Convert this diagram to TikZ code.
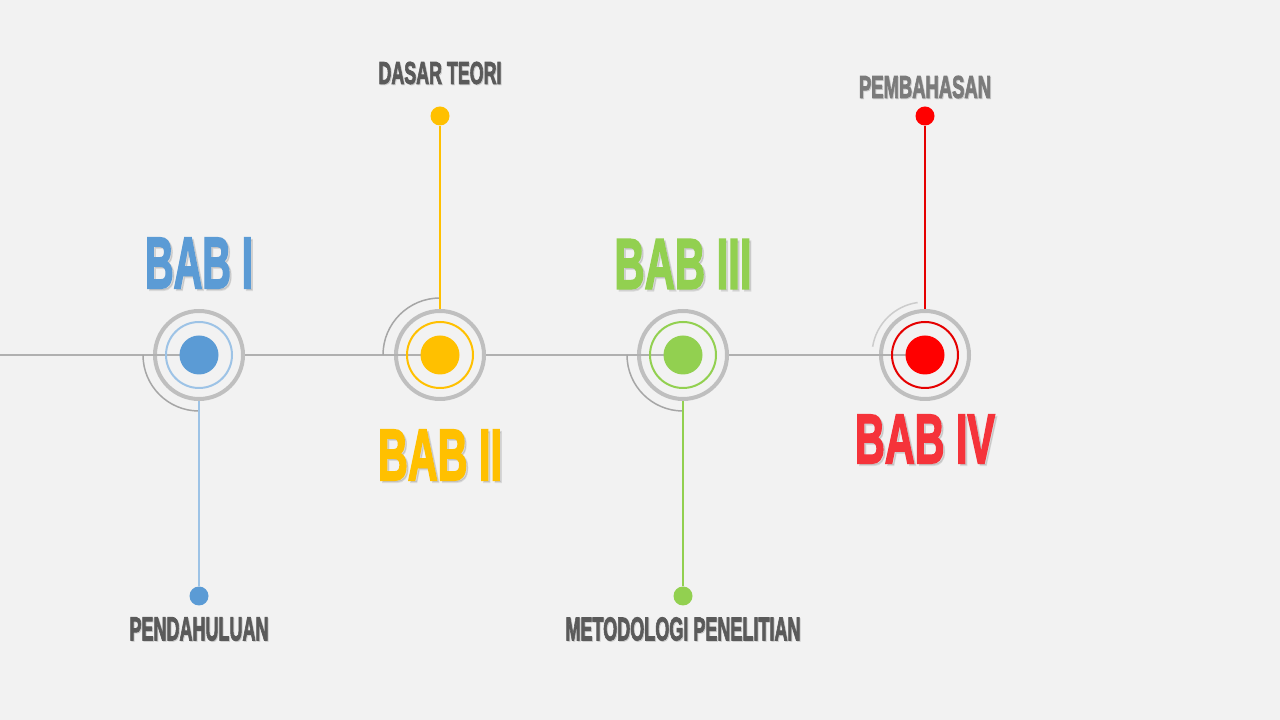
\documentclass[tikz,border=0pt]{standalone}
\usepackage{fontspec}
\setmainfont{Liberation Sans}
\newfontfamily\headfont[FakeBold=3]{Liberation Sans Bold}
\usepackage{graphicx}
\definecolor{bgC}{HTML}{F2F2F2}
\definecolor{blueC}{HTML}{5B9BD5}
\definecolor{lblueC}{HTML}{9DC3E6}
\definecolor{yelC}{HTML}{FFC000}
\definecolor{grnC}{HTML}{92D050}
\definecolor{redC}{HTML}{FF0000}
\definecolor{redT}{HTML}{F5333A}
\definecolor{ringC}{HTML}{BFBFBF}
\definecolor{lineC}{HTML}{B0B0B0}
\definecolor{arcC}{HTML}{A6A6A6}
\definecolor{arcL}{HTML}{CCCCCC}
\definecolor{txtG}{HTML}{5A5A5A}
\tikzset{
  ring/.style={circle, draw=ringC, line width=4pt, minimum size=88pt, inner sep=0pt},
  inring/.style={circle, line width=2pt, minimum size=66pt, inner sep=0pt},
  core/.style={circle, minimum size=39pt, inner sep=0pt},
  enddot/.style={circle, minimum size=19pt, inner sep=0pt},
  hline/.style={draw=lineC, line width=1.5pt},
  arcline/.style={draw=arcC, line width=1.5pt},
  vline/.style={line width=2pt},
  txt/.style={inner sep=0pt, font=\headfont},
  shadow/.style={inner sep=0pt, font=\headfont, text=black, opacity=0.1}
}
\begin{document}
\begin{tikzpicture}[x=1pt,y=1pt]
\useasboundingbox (0,0) rectangle (1280,720);
\fill[bgC] (0,0) rectangle (1280,720);
% centres
\coordinate (c1) at (199,365);
\coordinate (c2) at (440,365);
\coordinate (c3) at (683,365);
\coordinate (c4) at (925,365);
\coordinate (start) at (0,365);
% rings
\node[ring] (r1) at (c1) {};
\node[ring] (r2) at (c2) {};
\node[ring] (r3) at (c3) {};
\node[ring] (r4) at (c4) {};
% horizontal line
\draw[hline] (start) -- (c1);
\draw[hline] (r1.east) -- (c2);
\draw[hline] (r2.east) -- (c3);
\draw[hline] (r3.east) -- (c4);
% arcs
\draw[arcline] (c1) ++(180:56pt) arc[start angle=180, end angle=270, radius=56pt];
\draw[arcline] (c2) ++(90:57pt) arc[start angle=90, end angle=180, radius=57pt];
\draw[arcline] (c3) ++(180:56pt) arc[start angle=180, end angle=270, radius=56pt];
\draw[arcline, draw=arcL] (c4) ++(98:53pt) arc[start angle=98, end angle=171, radius=53pt];
% inner rings and cores
\node[inring, draw=lblueC] (i1) at (c1) {};
\node[inring, draw=yelC] (i2) at (c2) {};
\node[inring, draw=grnC] (i3) at (c3) {};
\node[inring, draw=redC!90!black] (i4) at (c4) {};
\node[core, fill=blueC] (k1) at (c1) {};
\node[core, fill=yelC] (k2) at (c2) {};
\node[core, fill=grnC] (k3) at (c3) {};
\node[core, fill=redC] (k4) at (c4) {};
% end dots
\node[enddot, fill=blueC] (e1) at (199,124) {};
\node[enddot, fill=yelC] (e2) at (440,604) {};
\node[enddot, fill=grnC] (e3) at (683,124) {};
\node[enddot, fill=redC] (e4) at (925,604) {};
% vertical connectors
\draw[vline, draw=lblueC] (r1.south) -- (e1);
\draw[vline, draw=yelC] (r2.north) -- (e2);
\draw[vline, draw=grnC] (r3.south) -- (e3);
\draw[vline, draw=redC!90!black] (r4.north) -- (e4);
% big titles
\node[shadow] at (201,455) {\resizebox{108pt}{50pt}{BAB I}};
\node[txt, text=blueC] (t1) at (199,457) {\resizebox{108pt}{50pt}{BAB I}};
\node[shadow] at (442,263) {\resizebox{124pt}{50pt}{BAB II}};
\node[txt, text=yelC] (t2) at (440,265) {\resizebox{124pt}{50pt}{BAB II}};
\node[shadow] at (685,454) {\resizebox{137pt}{49pt}{BAB III}};
\node[txt, text=grnC] (t3) at (683,456) {\resizebox{137pt}{49pt}{BAB III}};
\node[shadow] at (927,279) {\resizebox{140pt}{48pt}{BAB IV}};
\node[txt, text=redT] (t4) at (925,281) {\resizebox{140pt}{48pt}{BAB IV}};
% small labels
\node[shadow] at (441,646) {\resizebox{123pt}{22pt}{DASAR TEORI}};
\node[txt, text=txtG] (l2) at (440,647) {\resizebox{123pt}{22pt}{DASAR TEORI}};
\node[shadow] at (926,632) {\resizebox{132pt}{22pt}{PEMBAHASAN}};
\node[txt, text=txtG!80!white] (l4) at (925,633) {\resizebox{132pt}{22pt}{PEMBAHASAN}};
\node[shadow] at (200,90) {\resizebox{139pt}{23pt}{PENDAHULUAN}};
\node[txt, text=txtG] (l1) at (199,91) {\resizebox{139pt}{23pt}{PENDAHULUAN}};
\node[shadow] at (684,90) {\resizebox{235pt}{23pt}{METODOLOGI PENELITIAN}};
\node[txt, text=txtG] (l3) at (683,91) {\resizebox{235pt}{23pt}{METODOLOGI PENELITIAN}};
\end{tikzpicture}
\end{document}
